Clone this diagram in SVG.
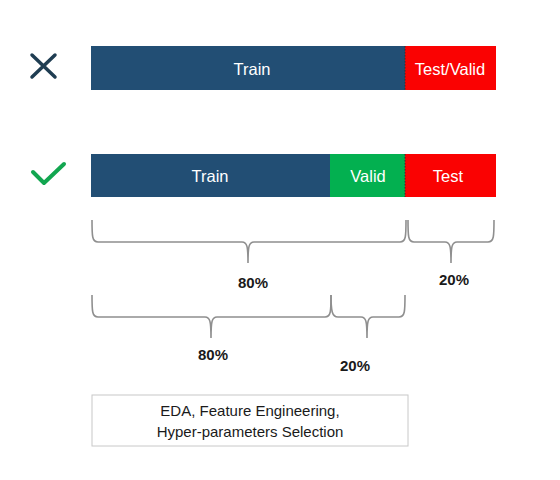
<svg xmlns="http://www.w3.org/2000/svg" width="560" height="480" viewBox="0 0 560 480">
<style>
.lbl{font-family:"Liberation Sans",Arial,sans-serif;font-size:16.5px;fill:#ffffff;text-anchor:middle}
.pct{font-family:"Liberation Sans",Arial,sans-serif;font-size:15px;font-weight:bold;fill:#1a1a1a;text-anchor:middle}
.box{font-family:"Liberation Sans",Arial,sans-serif;font-size:15px;fill:#1a1a1a;text-anchor:middle}
.brace{fill:none;stroke:#8f8f8f;stroke-width:1.6}
.sep{stroke:#333;stroke-width:1;stroke-dasharray:1.5 1.5}
</style>
<rect width="560" height="480" fill="#ffffff"/>
<g id="icon-x">
<path d="M32 55 L55 77 M55 55 L32 77" stroke="#1f3d52" stroke-width="3.5" stroke-linecap="round" fill="none"/>
</g>
<g id="icon-check">
<path d="M33 172 L44 183 L64 164" stroke="#12a650" stroke-width="4" stroke-linecap="round" stroke-linejoin="round" fill="none"/>
</g>
<g id="bar1">
<g id="bar1-train"><rect x="91" y="46" width="314" height="44" fill="#224e74"/><text class="lbl" x="252" y="75">Train</text></g>
<g id="bar1-testvalid"><rect x="405" y="46" width="91" height="44" fill="#fa0202"/><text class="lbl" x="450" y="75">Test/Valid</text></g>
<line class="sep" x1="405" y1="46" x2="405" y2="90"/>
</g>
<g id="bar2">
<g id="bar2-train"><rect x="91" y="154" width="239" height="43" fill="#224e74"/><text class="lbl" x="210" y="182">Train</text></g>
<g id="bar2-valid"><rect x="330" y="154" width="75" height="43" fill="#03b050"/><text class="lbl" x="368" y="182">Valid</text></g>
<g id="bar2-test"><rect x="405" y="154" width="91" height="43" fill="#fa0202"/><text class="lbl" x="448" y="182">Test</text></g>
<line class="sep" x1="405" y1="154" x2="405" y2="197"/>
</g>
<g id="braces">
<path class="brace" d="M92 220 C92 236 92 242 98 242 L242 242 C247 242 248 246 248 263 C248 246 249 242 254 242 L400 242 C406 242 406 236 406 220"/>
<path class="brace" d="M408 220 C408 236 408 242 414 242 L445 242 C450 242 451 246 451 263 C451 246 452 242 457 242 L488 242 C494 242 494 236 494 220"/>
<path class="brace" d="M92 295 C92 311 92 317 98 317 L205 317 C210 317 211 321 211 338 C211 321 212 317 217 317 L325 317 C331 317 331 311 331 295"/>
<path class="brace" d="M331 295 C331 311 332 317 338 317 L361 317 C366 317 367 321 367 338 C367 321 368 317 373 317 L399 317 C405 317 405 311 405 295"/>
</g>
<g id="labels">
<text class="pct" x="253" y="288">80%</text>
<text class="pct" x="454" y="285">20%</text>
<text class="pct" x="213" y="360">80%</text>
<text class="pct" x="355" y="371">20%</text>
</g>
<g id="note">
<rect x="92" y="395" width="316" height="51" fill="#ffffff" stroke="#c8c8c8" stroke-width="1"/>
<text class="box" x="250" y="416">EDA, Feature Engineering,</text>
<text class="box" x="250" y="437">Hyper-parameters Selection</text>
</g>
</svg>
